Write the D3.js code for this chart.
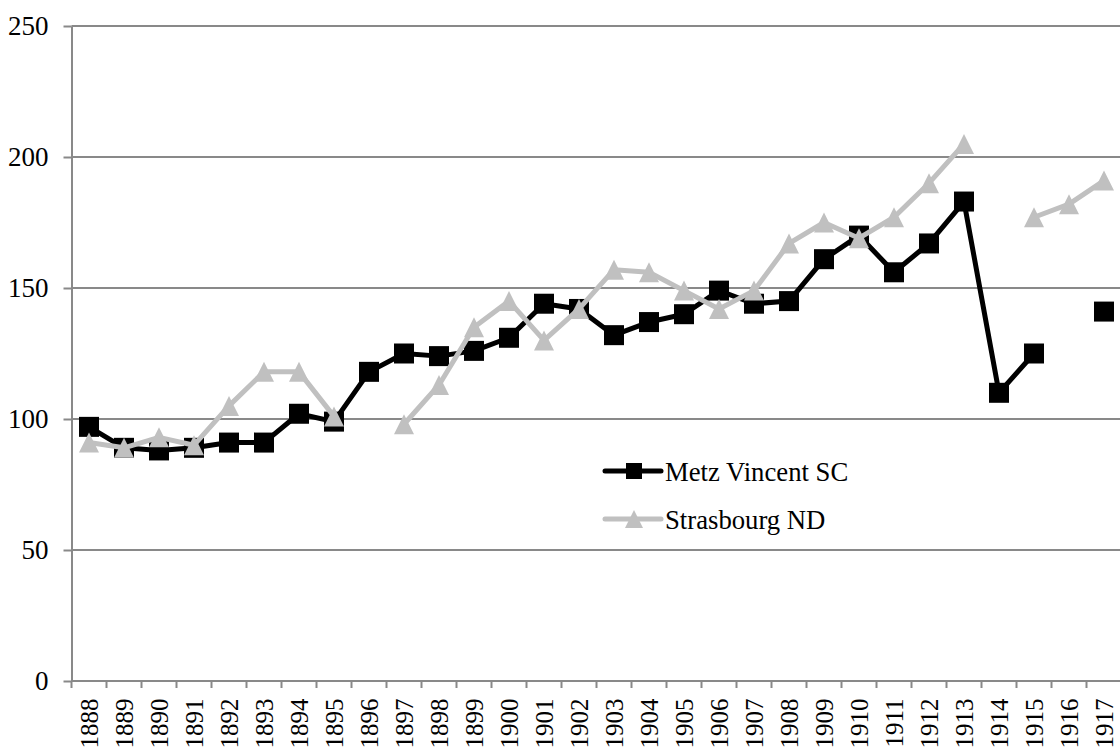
<!DOCTYPE html>
<html>
<head>
<meta charset="utf-8">
<script src="https://cdn.jsdelivr.net/npm/d3@7"></script>
<style>
  html, body { margin: 0; padding: 0; background: #fff; overflow: hidden; }
  svg text { font-family: "Liberation Serif", "DejaVu Serif", "Times New Roman", Times, serif; }
</style>
</head>
<body>
<svg id="chart" width="1120" height="749"></svg>
<script>
// --- Data ---
const years = d3.range(1888, 1918).map(String);
const metz = [97, 89, 88, 89, 91, 91, 102, 99, 118, 125, 124, 126, 131, 144, 142,
              132, 137, 140, 149, 144, 145, 161, 170, 156, 167, 183, 110, 125, null, 141];
const strasbourg = [91, 89, 93, 90, 105, 118, 118, 101, null, 98, 113, 135, 145, 130, 142,
                    157, 156, 149, 142, 149, 167, 175, 169, 177, 190, 205, null, 177, 182, 191];
const yTicks = [0, 50, 100, 150, 200, 250];
const seriesNames = ['Metz Vincent SC', 'Strasbourg ND'];

// --- Layout ---
const PLOT = { left: 71.5, right: 1121.5, top: 26, bottom: 681 };
const FONT_Y = 27;
const FONT_X = 25;
const FONT_LEGEND = 26.7;
const SERIF = '"Liberation Serif", "DejaVu Serif", "Times New Roman", Times, serif';
const GRID = '#898989';
const METZ_COLOR = '#000000';
const STRAS_COLOR = '#c0c0c0';

const svg = d3.select('#chart');

const x = d3.scaleBand().domain(years).range([PLOT.left, PLOT.right]);
const y = d3.scaleLinear().domain([0, 250]).range([PLOT.bottom, PLOT.top]);

// gridlines
svg.append('g')
    .selectAll('line')
    .data(yTicks.filter(d => d > 0))
    .join('line')
    .attr('x1', PLOT.left).attr('x2', PLOT.right)
    .attr('y1', d => y(d)).attr('y2', d => y(d))
    .attr('stroke', GRID).attr('stroke-width', 2);

// y axis
const yAxis = svg.append('g')
    .attr('transform', `translate(${PLOT.left},0)`)
    .call(d3.axisLeft(y).tickValues(yTicks).tickSize(8).tickPadding(15).tickSizeOuter(0));
yAxis.select('.domain').attr('stroke', GRID).attr('stroke-width', 2);
yAxis.selectAll('.tick line').attr('stroke', GRID).attr('stroke-width', 2);
yAxis.selectAll('text')
    .style('font-family', SERIF)
    .style('font-size', FONT_Y + 'px')
    .attr('fill', '#000');

// x axis baseline + ticks at band boundaries
const xg = svg.append('g');
xg.append('line')
    .attr('x1', PLOT.left).attr('x2', PLOT.right)
    .attr('y1', y(0)).attr('y2', y(0))
    .attr('stroke', GRID).attr('stroke-width', 2);
const bounds = years.map(d => x(d)).concat([x(years[years.length - 1]) + x.bandwidth()]);
xg.selectAll('line.tk')
    .data(bounds)
    .join('line')
    .attr('class', 'tk')
    .attr('x1', d => d).attr('x2', d => d)
    .attr('y1', y(0)).attr('y2', y(0) + 7)
    .attr('stroke', GRID).attr('stroke-width', 2);
xg.selectAll('text')
    .data(years)
    .join('text')
    .attr('transform', d => `translate(${x(d) + x.bandwidth() / 2},${y(0) + 17.5}) rotate(-90)`)
    .attr('text-anchor', 'end')
    .attr('dy', '0.35em')
    .style('font-family', SERIF)
    .style('font-size', FONT_X + 'px')
    .attr('fill', '#000')
    .text(d => d);

// --- Series ---
const cx = (d, i) => x(years[i]) + x.bandwidth() / 2;
const line = d3.line()
    .defined(d => d != null)
    .x(cx)
    .y(d => y(d));

// upright triangle, centred on its bounding box, a little taller than wide
const tallTriangle = {
    draw(context, size) {
        const w = Math.sqrt(size);
        const h = w * 1.0;
        context.moveTo(0, -h / 2);
        context.lineTo(w / 2, h / 2);
        context.lineTo(-w / 2, h / 2);
        context.closePath();
    }
};

const square = d3.symbol().type(d3.symbolSquare).size(20 * 20);
const triangle = d3.symbol().type(tallTriangle).size(20 * 20);

function drawSeries(values, color, sym) {
    svg.append('path')
        .datum(values)
        .attr('d', line)
        .attr('fill', 'none')
        .attr('stroke', color)
        .attr('stroke-width', 5)
        .attr('stroke-linejoin', 'round');
    svg.append('g')
        .selectAll('path')
        .data(values.map((v, i) => ({ v, i })).filter(d => d.v != null))
        .join('path')
        .attr('transform', d => `translate(${cx(null, d.i)},${y(d.v)})`)
        .attr('d', sym)
        .attr('fill', color);
}

drawSeries(metz, METZ_COLOR, square);
drawSeries(strasbourg, STRAS_COLOR, triangle);

// --- Legend ---
const legendSquare = d3.symbol().type(d3.symbolSquare).size(16 * 16);
const legendTriangle = d3.symbol().type(tallTriangle).size(18 * 18);
const legend = [
    { name: seriesNames[0], color: METZ_COLOR, sym: legendSquare, y: 471 },
    { name: seriesNames[1], color: STRAS_COLOR, sym: legendTriangle, y: 519 }
];
const lg = svg.append('g');
legend.forEach(l => {
    lg.append('line')
        .attr('x1', 605).attr('x2', 661)
        .attr('y1', l.y).attr('y2', l.y)
        .attr('stroke', l.color).attr('stroke-width', 5)
        .attr('stroke-linecap', 'round');
    lg.append('path')
        .attr('transform', `translate(634,${l.y})`)
        .attr('d', l.sym)
        .attr('fill', l.color);
    lg.append('text')
        .attr('x', 665).attr('y', l.y)
        .attr('dy', '0.37em')
        .style('font-family', SERIF)
        .style('font-size', FONT_LEGEND + 'px')
        .attr('fill', '#000')
        .text(l.name);
});
</script>
</body>
</html>
